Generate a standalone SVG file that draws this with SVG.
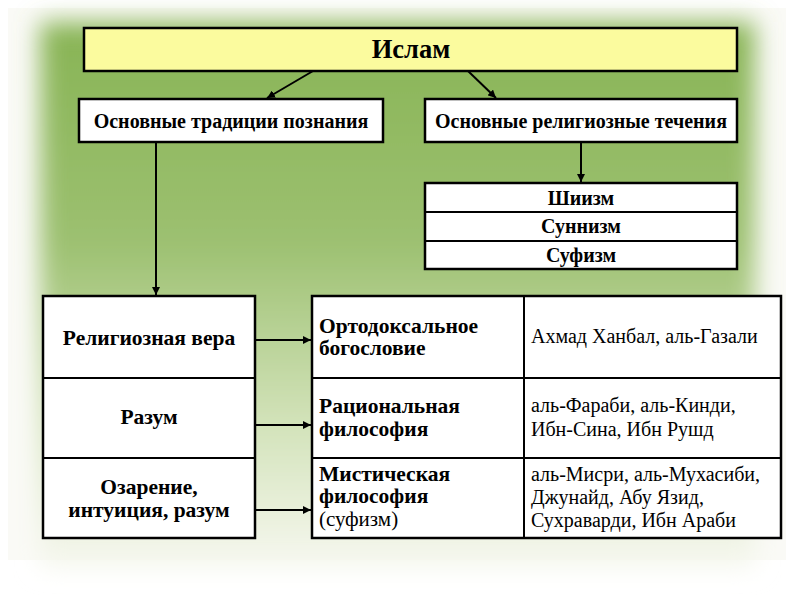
<svg xmlns="http://www.w3.org/2000/svg" width="794" height="595" viewBox="0 0 794 595">
<defs>
<linearGradient id="bg" x1="0" y1="0" x2="0" y2="1">
<stop offset="0" stop-color="#88b455"/>
<stop offset="0.4" stop-color="#9cc070"/>
<stop offset="0.72" stop-color="#d0e1b6"/>
<stop offset="1" stop-color="#f7f8f0"/>
</linearGradient>
<filter id="soft" x="-10%" y="-10%" width="120%" height="120%">
<feGaussianBlur stdDeviation="12"/>
</filter>
<marker id="ah" viewBox="0 0 10 10" refX="10" refY="5" markerWidth="4" markerHeight="4" orient="auto" markerUnits="strokeWidth">
<path d="M0,0 L10,5 L0,10 z" fill="#000"/>
</marker>
<style>
.box{stroke:#000;stroke-width:2.5;fill:#fff}
.yel{fill:#fbfb9e}
.c{text-anchor:middle}
.ln{stroke:#000;stroke-width:2;fill:none}
.ar{stroke:#000;stroke-width:2;fill:none;marker-end:url(#ah)}
</style>
</defs>
<rect x="8" y="8" width="778" height="552" fill="#fafaf6"/>
<rect x="40" y="22" width="715" height="545" fill="url(#bg)" filter="url(#soft)"/>

<g id="connectors">
<line class="ar" x1="313" y1="71" x2="267" y2="98"/>
<line class="ar" x1="468" y1="71" x2="496" y2="98"/>
<line class="ar" x1="156" y1="142" x2="156" y2="295"/>
<line class="ar" x1="581" y1="142" x2="581" y2="182"/>
<line class="ar" x1="255" y1="340" x2="311" y2="340"/>
<line class="ar" x1="255" y1="425" x2="311" y2="425"/>
<line class="ar" x1="255" y1="510" x2="311" y2="510"/>
</g>

<g font-family="Liberation Serif" fill="#000">
<g id="islam">
<rect class="box yel" x="84" y="28" width="653" height="43"/>
<text class="c" x="411" y="58" font-size="26.5" font-weight="bold">Ислам</text>
</g>

<g id="traditions" font-weight="bold">
<rect class="box" x="79" y="99" width="304" height="43"/>
<text class="c" x="231" y="128" font-size="20">Основные традиции познания</text>
</g>

<g id="currents" font-weight="bold">
<rect class="box" x="425" y="99" width="312" height="43"/>
<text class="c" x="581" y="128" font-size="20">Основные религиозные течения</text>
</g>

<g id="sects" font-weight="bold">
<rect class="box" x="425" y="183" width="312" height="86"/>
<line class="ln" x1="425" y1="212" x2="737" y2="212"/>
<line class="ln" x1="425" y1="241" x2="737" y2="241"/>
<text class="c" x="581" y="205" font-size="20">Шиизм</text>
<text class="c" x="581" y="233" font-size="20">Суннизм</text>
<text class="c" x="581" y="262" font-size="20">Суфизм</text>
</g>

<g id="sources" font-weight="bold">
<rect class="box" x="43" y="296" width="212" height="242"/>
<line class="ln" x1="43" y1="378" x2="255" y2="378"/>
<line class="ln" x1="43" y1="458" x2="255" y2="458"/>
<text class="c" x="149" y="345" font-size="21.5">Религиозная вера</text>
<text class="c" x="149" y="424" font-size="21.5">Разум</text>
<text class="c" x="149" y="494" font-size="21.5">Озарение,</text>
<text class="c" x="149" y="517" font-size="21.5">интуиция, разум</text>
</g>

<g id="schools">
<rect class="box" x="312" y="296" width="469" height="242"/>
<line class="ln" x1="312" y1="378" x2="781" y2="378"/>
<line class="ln" x1="312" y1="458" x2="781" y2="458"/>
<line class="ln" x1="524" y1="296" x2="524" y2="538"/>
<g font-weight="bold" font-size="21.5">
<text x="319" y="333">Ортодоксальное</text>
<text x="319" y="355">богословие</text>
<text x="319" y="413">Рациональная</text>
<text x="319" y="436">философия</text>
<text x="319" y="481">Мистическая</text>
<text x="319" y="503">философия</text>
</g>
<text x="319" y="526" font-size="21">(суфизм)</text>
<g font-size="20">
<text x="531" y="343">Ахмад Ханбал, аль-Газали</text>
<text x="531" y="412">аль-Фараби, аль-Кинди,</text>
<text x="531" y="436">Ибн-Сина, Ибн Рушд</text>
<text x="531" y="481">аль-Мисри, аль-Мухасиби,</text>
<text x="531" y="504">Джунайд, Абу Язид,</text>
<text x="531" y="527">Сухраварди, Ибн Араби</text>
</g>
</g>
</g>
</svg>
